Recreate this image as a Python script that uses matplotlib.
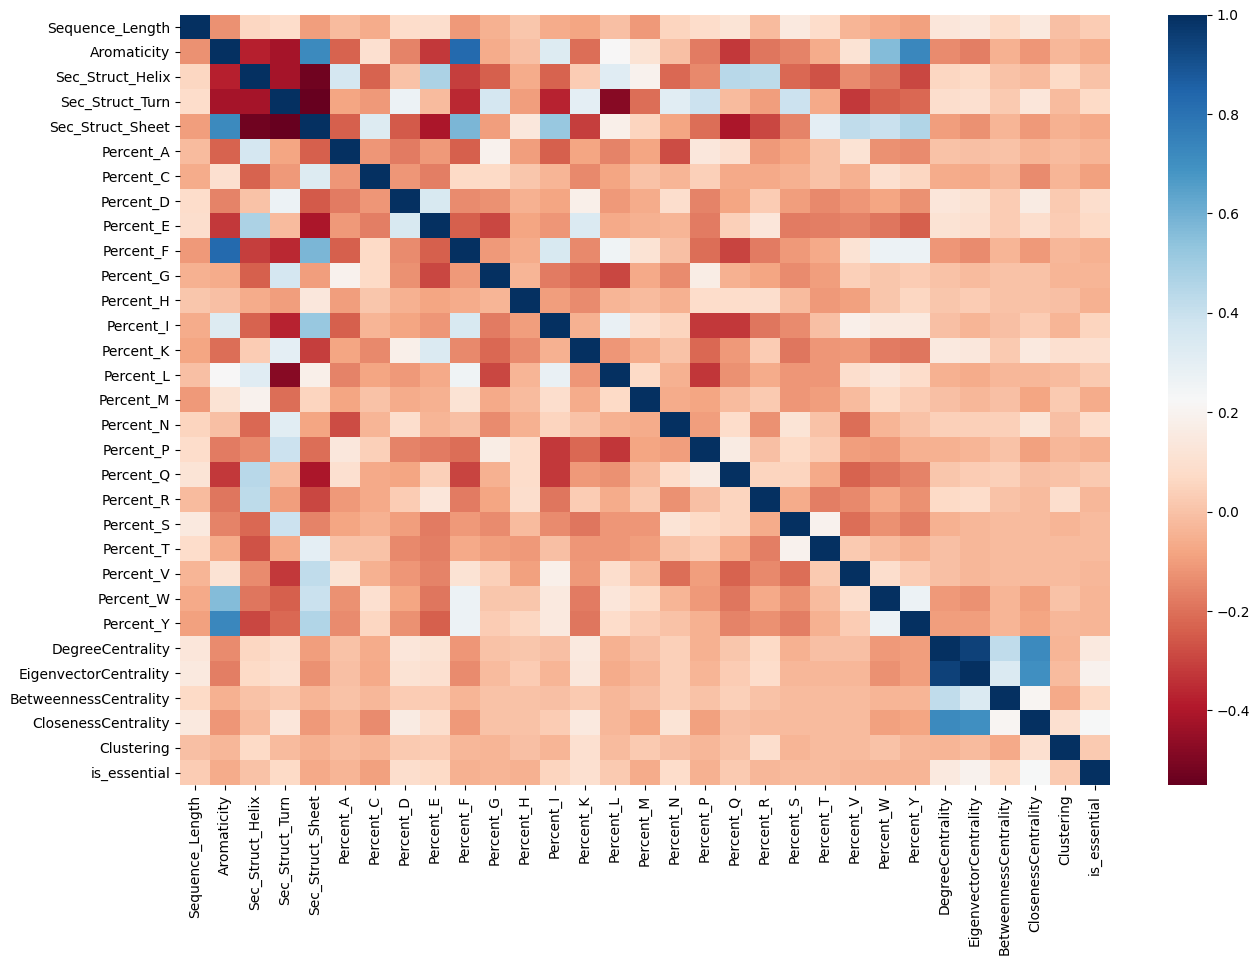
import numpy as np
import matplotlib
matplotlib.use("Agg")
import matplotlib.pyplot as plt

labels = ["Sequence_Length", "Aromaticity", "Sec_Struct_Helix", "Sec_Struct_Turn", "Sec_Struct_Sheet",
          "Percent_A", "Percent_C", "Percent_D", "Percent_E", "Percent_F", "Percent_G", "Percent_H",
          "Percent_I", "Percent_K", "Percent_L", "Percent_M", "Percent_N", "Percent_P", "Percent_Q",
          "Percent_R", "Percent_S", "Percent_T", "Percent_V", "Percent_W", "Percent_Y",
          "DegreeCentrality", "EigenvectorCentrality", "BetweennessCentrality", "ClosenessCentrality",
          "Clustering", "is_essential"]

# correlaciones, cada fila empieza despues de la diagonal
sequence_length = [-.13, .06, .08, -.10, -.02, -.06, .08, .09, -.11, -.05, .01, -.06, -.08, -.01, -.11,
                   .05, .08, .12, -.02, .15, .08, -.04, -.07, -.09, .13, .15, .07, .15, -.01, .03]
aromaticity = [-.38, -.42, .72, -.23, .10, -.16, -.32, .83, -.06, -.01, .33, -.21, .22, .11,
               -.01, -.18, -.32, -.19, -.16, -.06, .11, .56, .73, -.14, -.17, -.05, -.12, -.03, -.06]
helix = [-.42, -.53, .36, -.23, .0, .47, -.31, -.24, -.06, -.23, .03, .32, .19,
         -.22, -.15, .44, .43, -.22, -.27, -.14, -.19, -.29, .06, .07, .0, -.02, .07, .0]
turn = [-.55, -.08, -.11, .27, -.02, -.36, .36, -.10, -.37, .30, -.48, -.21,
        .31, .39, -.02, -.10, .39, -.07, -.32, -.24, -.22, .09, .10, .02, .13, -.02, .07]
sheet = [-.24, .33, -.25, -.41, .58, -.10, .14, .52, -.31, .18, .05,
         -.08, -.21, -.41, -.29, -.16, .30, .42, .40, .46, -.10, -.13, -.04, -.11, -.05, -.07]
pct_a = [-.12, -.18, -.11, -.24, .19, -.10, -.24, -.08, -.16, -.08,
         -.28, .14, .10, -.11, -.08, .0, .11, -.13, -.14, .0, -.01, .0, -.04, -.02, -.04]
pct_c = [-.12, -.17, .07, .07, .01, -.04, -.15, -.08, .0,
         -.04, .04, -.07, -.07, -.05, .0, -.05, .10, .06, -.06, -.07, -.03, -.14, -.04, -.09]
pct_d = [.35, -.14, -.13, -.05, -.08, .18, -.11, -.06,
         .09, -.16, -.08, .03, -.10, -.15, -.12, -.08, -.13, .13, .11, .03, .16, .02, .09]
pct_e = [-.24, -.29, -.08, -.12, .34, -.07, -.05,
         -.04, -.18, .04, .13, -.18, -.17, -.16, -.19, -.24, .11, .10, .03, .09, .03, .07]
pct_f = [-.11, -.06, .35, -.15, .26, .11,
         -.01, -.21, -.30, -.18, -.11, -.07, .11, .27, .27, -.12, -.14, -.04, -.11, -.03, -.05]
pct_g = [-.04, -.18, -.22, -.29, -.07,
         -.14, .17, -.05, -.08, -.14, -.10, .04, .01, .03, .0, -.02, .0, .0, -.04, -.04]
pct_h = [-.10, -.14, -.04, -.02,
         -.05, .08, .08, .09, -.02, -.11, -.09, .01, .06, .01, .03, .0, .0, -.01, -.05]
pct_i = [-.05, .28, .09,
         .05, -.32, -.32, -.19, -.14, -.01, .18, .15, .15, -.01, -.04, -.01, .03, -.04, .05]
pct_k = [-.12, -.06,
         .0, -.22, -.11, .03, -.19, -.12, -.11, -.18, -.19, .15, .14, .02, .15, .10, .10]
pct_l = [.07,
         -.05, -.33, -.13, -.06, -.12, -.12, .09, .13, .08, -.05, -.06, -.03, -.03, -.02, .02]
pct_m = [-.06, -.08, -.02, .02, -.12, -.10, -.02, .07, .03, -.01, -.03, -.01, -.08, .02, -.06]
pct_n = [-.10, .08, -.13, .12, .0, -.21, -.04, .0, .04, .04, .04, .12, -.01, .08]
pct_p = [.16, -.01, .07, .03, -.10, -.11, -.05, -.05, -.04, .0, -.09, -.03, -.05]
pct_q = [.05, .05, -.07, -.23, -.19, -.16, .01, .03, .04, -.01, .0, .02]
pct_r = [-.06, -.17, -.15, -.07, -.13, .07, .08, .0, -.02, .09, -.03]
pct_s = [.19, -.21, -.13, -.17, -.05, -.03, -.02, -.02, -.04, -.02]
pct_t = [.02, -.02, -.05, -.01, -.03, -.02, -.02, -.02, -.02]
pct_v = [.09, .03, -.01, -.03, -.02, -.02, -.02, -.03]
pct_w = [.27, -.11, -.13, -.04, -.09, .0, -.04]
pct_y = [-.10, -.10, -.04, -.08, -.03, -.04]
degree = [.95, .42, .72, -.04, .15]
eigenvector = [.34, .70, -.02, .19]
betweenness = [.21, -.07, .07]
closeness = [.10, .23]
clustering = [.02]

upper_rows = [sequence_length, aromaticity, helix, turn, sheet, pct_a, pct_c, pct_d, pct_e, pct_f,
              pct_g, pct_h, pct_i, pct_k, pct_l, pct_m, pct_n, pct_p, pct_q, pct_r, pct_s, pct_t,
              pct_v, pct_w, pct_y, degree, eigenvector, betweenness, closeness, clustering]

# armar la matriz simetrica
n = len(labels)
corr = np.eye(n)
for i, row in enumerate(upper_rows):
    corr[i, i + 1:] = row
    corr[i + 1:, i] = row

W, H = 1260, 965
fig = plt.figure(figsize=(W / 100, H / 100), dpi=100)
ax = fig.add_axes([180 / W, 1 - 785 / H, 930 / W, 770.4 / H])
cax = fig.add_axes([1168 / W, 1 - 785 / H, 39 / W, 770.4 / H])

mesh = ax.pcolormesh(np.arange(n + 1), np.arange(n + 1), corr, cmap="RdBu", vmin=-0.55, vmax=1.0)
ax.set_xlim(0, n)
ax.set_ylim(n, 0)
ax.set_xticks(np.arange(n) + 0.5)
ax.set_xticklabels(labels, rotation=90)
ax.set_yticks(np.arange(n) + 0.5)
ax.set_yticklabels(labels, rotation=0)
for spine in ax.spines.values():
    spine.set_visible(False)

cbar = fig.colorbar(mesh, cax=cax)
cbar.set_ticks([-0.4, -0.2, 0.0, 0.2, 0.4, 0.6, 0.8, 1.0])
cbar.outline.set_linewidth(0)

fig.savefig("out.png", dpi=100)
